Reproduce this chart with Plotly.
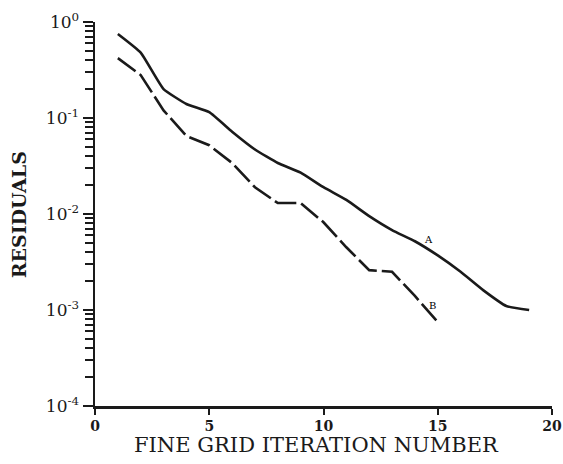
import plotly.graph_objects as go

iter_a = list(range(1, 20))
resid_a = [0.75, 0.48, 0.20, 0.14, 0.115, 0.072, 0.047, 0.034, 0.027, 0.019,
           0.014, 0.0095, 0.0068, 0.0052, 0.0037, 0.0025, 0.0016, 0.0011, 0.001]
iter_b = list(range(1, 16))
resid_b = [0.42, 0.28, 0.12, 0.065, 0.052, 0.034, 0.019, 0.013, 0.013, 0.0082,
           0.0045, 0.0026, 0.0025, 0.0014, 0.00075]

y_tickvals = [1, 0.1, 0.01, 0.001, 0.0001]
y_ticktext = ["10<sup>0</sup>", "10<sup>-1</sup>", "10<sup>-2</sup>", "10<sup>-3</sup>", "10<sup>-4</sup>"]
y_minor = [m * d for d in [0.0001, 0.001, 0.01, 0.1] for m in range(2, 10)]
x_tickvals = [0, 5, 10, 15, 20]

FONT = "DejaVu Serif"
INK = "#1a1a1a"

fig = go.Figure()
fig.add_trace(go.Scatter(x=iter_a, y=resid_a, mode="lines",
                         line=dict(color=INK, width=2.6, shape="spline", smoothing=0.4),
                         showlegend=False))
fig.add_trace(go.Scatter(x=iter_b, y=resid_b, mode="lines",
                         line=dict(color=INK, width=2.6, dash="22px,5px"),
                         showlegend=False))

fig.add_annotation(x=14.6, y=-2.27, text="A", showarrow=False,
                   font=dict(family=FONT, size=10, color="black"))
fig.add_annotation(x=14.75, y=-2.95, text="B", showarrow=False,
                   font=dict(family=FONT, size=10, color="black"))
fig.add_annotation(xref="paper", yref="paper", x=0.4836, y=-0.102,
                   xanchor="center", yanchor="middle",
                   text="FINE GRID ITERATION NUMBER", showarrow=False,
                   font=dict(family=FONT, size=21, color=INK))
fig.add_annotation(xref="paper", yref="paper", x=-0.166, y=0.497, textangle=-90,
                   xanchor="center", yanchor="middle",
                   text="<b>RESIDUALS</b>", showarrow=False,
                   font=dict(family=FONT, size=19, color=INK))

fig.update_layout(
    width=563, height=464,
    margin=dict(l=95, r=11, t=22, b=58),
    paper_bgcolor="white", plot_bgcolor="white",
    font=dict(family=FONT, color=INK),
    xaxis=dict(range=[0, 20], tickvals=x_tickvals, showgrid=False, zeroline=False,
               automargin=False, ticklabeloverflow="allow",
               showline=True, linecolor=INK, linewidth=2.5,
               ticks="outside", ticklen=6, tickwidth=2, tickcolor=INK,
               tickfont=dict(family=FONT, size=14, color=INK, weight="bold")),
    yaxis=dict(type="log", range=[-4, 0], tickvals=y_tickvals, ticktext=y_ticktext,
               showgrid=False, zeroline=False, automargin=False,
               showline=True, linecolor=INK, linewidth=2.5,
               ticks="outside", ticklen=10, tickwidth=2, tickcolor=INK,
               minor=dict(ticks="outside", ticklen=8, tickwidth=2, tickcolor=INK,
                          tickvals=y_minor, showgrid=False),
               tickfont=dict(family=FONT, size=17, color=INK)),
)

page_fix = ("document.body.style.margin='0';"
            "document.body.style.overflow='hidden';"
            "document.documentElement.style.overflow='hidden';")
fig.write_html("out.html", post_script=page_fix,
               config={"displayModeBar": False, "staticPlot": True})
